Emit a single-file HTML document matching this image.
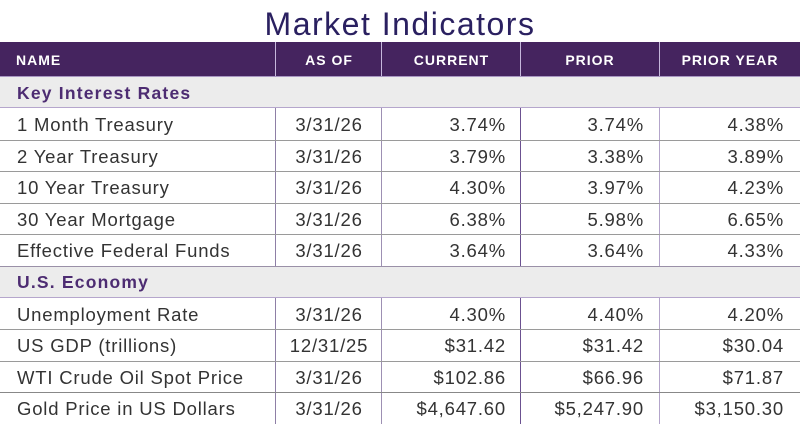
<!DOCTYPE html>
<html>
<head>
<meta charset="utf-8">
<style>
html,body{margin:0;padding:0;background:#fff;}
body{width:800px;height:424px;position:relative;overflow:hidden;font-family:"Liberation Sans",sans-serif;}
.t{position:absolute;white-space:nowrap;}
.title{left:0;width:800px;text-align:center;top:8.5px;font-size:32px;line-height:31px;color:#2a2060;letter-spacing:1.5px;}
.hdr{position:absolute;left:0;top:42px;width:800px;height:34px;background:#45245f;}
.hl{position:absolute;left:0;width:800px;top:76px;height:1px;background:#a896c2;}
.sec{position:absolute;left:0;width:800px;height:31px;background:#ececec;}
.h{position:absolute;top:42px;height:34px;line-height:36px;color:#fff;font-weight:bold;font-size:14px;letter-spacing:1px;}
.c{text-align:center;}
.vl{position:absolute;width:1px;}
.hline{position:absolute;left:0;width:800px;height:1px;background:#9a9a9a;}
.d{position:absolute;height:31.6px;line-height:33px;font-size:18.5px;color:#333;letter-spacing:0.8px;white-space:nowrap;}
.s{position:absolute;left:17px;font-weight:bold;font-size:17.5px;color:#4d2c72;letter-spacing:1.2px;height:31px;line-height:33px;white-space:nowrap;}
.r{text-align:right;}
</style>
</head>
<body>
<div class="t title">Market Indicators</div>

<div class="hdr"></div>
<div class="hl"></div>
<div class="vl" style="left:275px;top:42px;height:34px;background:#c6b8dc;"></div>
<div class="vl" style="left:381px;top:42px;height:34px;background:#c6b8dc;"></div>
<div class="vl" style="left:520px;top:42px;height:34px;background:#c6b8dc;"></div>
<div class="vl" style="left:659px;top:42px;height:34px;background:#c6b8dc;"></div>

<div class="h" style="left:16px;">NAME</div>
<div class="h c" style="left:276px;width:106px;">AS OF</div>
<div class="h c" style="left:382px;width:139px;">CURRENT</div>
<div class="h c" style="left:521px;width:138px;">PRIOR</div>
<div class="h c" style="left:660px;width:140px;">PRIOR YEAR</div>

<div class="sec" style="top:77px;"></div>
<div class="hline" style="top:107px;background:#b5a6cc;"></div>
<div class="s" style="top:77px;">Key Interest Rates</div>

<div class="sec" style="top:266px;"></div>
<div class="hline" style="top:265.5px;background:#9a90a8;"></div>
<div class="hline" style="top:297px;background:#b5a6cc;"></div>
<div class="s" style="top:266px;">U.S. Economy</div>

<div class="vl" style="left:275px;top:108px;height:158px;background:#8e7fa6;"></div>
<div class="vl" style="left:381px;top:108px;height:158px;background:#9d90b3;"></div>
<div class="vl" style="left:520px;top:108px;height:158px;background:#6b5190;"></div>
<div class="vl" style="left:659px;top:108px;height:158px;background:#b3a4ca;"></div>
<div class="vl" style="left:275px;top:298px;height:126px;background:#8e7fa6;"></div>
<div class="vl" style="left:381px;top:298px;height:126px;background:#9d90b3;"></div>
<div class="vl" style="left:520px;top:298px;height:126px;background:#6b5190;"></div>
<div class="vl" style="left:659px;top:298px;height:126px;background:#b3a4ca;"></div>

<div class="hline" style="top:139.6px;"></div>
<div class="hline" style="top:171.2px;"></div>
<div class="hline" style="top:202.8px;"></div>
<div class="hline" style="top:234.4px;"></div>
<div class="hline" style="top:329.2px;"></div>
<div class="hline" style="top:360.8px;"></div>
<div class="hline" style="top:392.4px;background:#888;"></div>

<div class="d" style="top:108px;left:17px;">1 Month Treasury</div>
<div class="d c" style="top:108px;left:276px;width:106px;">3/31/26</div>
<div class="d r" style="top:108px;left:382px;width:124px;">3.74%</div>
<div class="d r" style="top:108px;left:521px;width:123px;">3.74%</div>
<div class="d r" style="top:108px;left:660px;width:124px;">4.38%</div>

<div class="d" style="top:139.6px;left:17px;">2 Year Treasury</div>
<div class="d c" style="top:139.6px;left:276px;width:106px;">3/31/26</div>
<div class="d r" style="top:139.6px;left:382px;width:124px;">3.79%</div>
<div class="d r" style="top:139.6px;left:521px;width:123px;">3.38%</div>
<div class="d r" style="top:139.6px;left:660px;width:124px;">3.89%</div>

<div class="d" style="top:171.2px;left:17px;">10 Year Treasury</div>
<div class="d c" style="top:171.2px;left:276px;width:106px;">3/31/26</div>
<div class="d r" style="top:171.2px;left:382px;width:124px;">4.30%</div>
<div class="d r" style="top:171.2px;left:521px;width:123px;">3.97%</div>
<div class="d r" style="top:171.2px;left:660px;width:124px;">4.23%</div>

<div class="d" style="top:202.8px;left:17px;">30 Year Mortgage</div>
<div class="d c" style="top:202.8px;left:276px;width:106px;">3/31/26</div>
<div class="d r" style="top:202.8px;left:382px;width:124px;">6.38%</div>
<div class="d r" style="top:202.8px;left:521px;width:123px;">5.98%</div>
<div class="d r" style="top:202.8px;left:660px;width:124px;">6.65%</div>

<div class="d" style="top:234.4px;left:17px;">Effective Federal Funds</div>
<div class="d c" style="top:234.4px;left:276px;width:106px;">3/31/26</div>
<div class="d r" style="top:234.4px;left:382px;width:124px;">3.64%</div>
<div class="d r" style="top:234.4px;left:521px;width:123px;">3.64%</div>
<div class="d r" style="top:234.4px;left:660px;width:124px;">4.33%</div>

<div class="d" style="top:297.6px;left:17px;">Unemployment Rate</div>
<div class="d c" style="top:297.6px;left:276px;width:106px;">3/31/26</div>
<div class="d r" style="top:297.6px;left:382px;width:124px;">4.30%</div>
<div class="d r" style="top:297.6px;left:521px;width:123px;">4.40%</div>
<div class="d r" style="top:297.6px;left:660px;width:124px;">4.20%</div>

<div class="d" style="top:329.2px;left:17px;">US GDP (trillions)</div>
<div class="d c" style="top:329.2px;left:276px;width:106px;">12/31/25</div>
<div class="d r" style="top:329.2px;left:382px;width:124px;">$31.42</div>
<div class="d r" style="top:329.2px;left:521px;width:123px;">$31.42</div>
<div class="d r" style="top:329.2px;left:660px;width:124px;">$30.04</div>

<div class="d" style="top:360.8px;left:17px;">WTI Crude Oil Spot Price</div>
<div class="d c" style="top:360.8px;left:276px;width:106px;">3/31/26</div>
<div class="d r" style="top:360.8px;left:382px;width:124px;">$102.86</div>
<div class="d r" style="top:360.8px;left:521px;width:123px;">$66.96</div>
<div class="d r" style="top:360.8px;left:660px;width:124px;">$71.87</div>

<div class="d" style="top:392.4px;left:17px;">Gold Price in US Dollars</div>
<div class="d c" style="top:392.4px;left:276px;width:106px;">3/31/26</div>
<div class="d r" style="top:392.4px;left:382px;width:124px;">$4,647.60</div>
<div class="d r" style="top:392.4px;left:521px;width:123px;">$5,247.90</div>
<div class="d r" style="top:392.4px;left:660px;width:124px;">$3,150.30</div>
</body>
</html>
